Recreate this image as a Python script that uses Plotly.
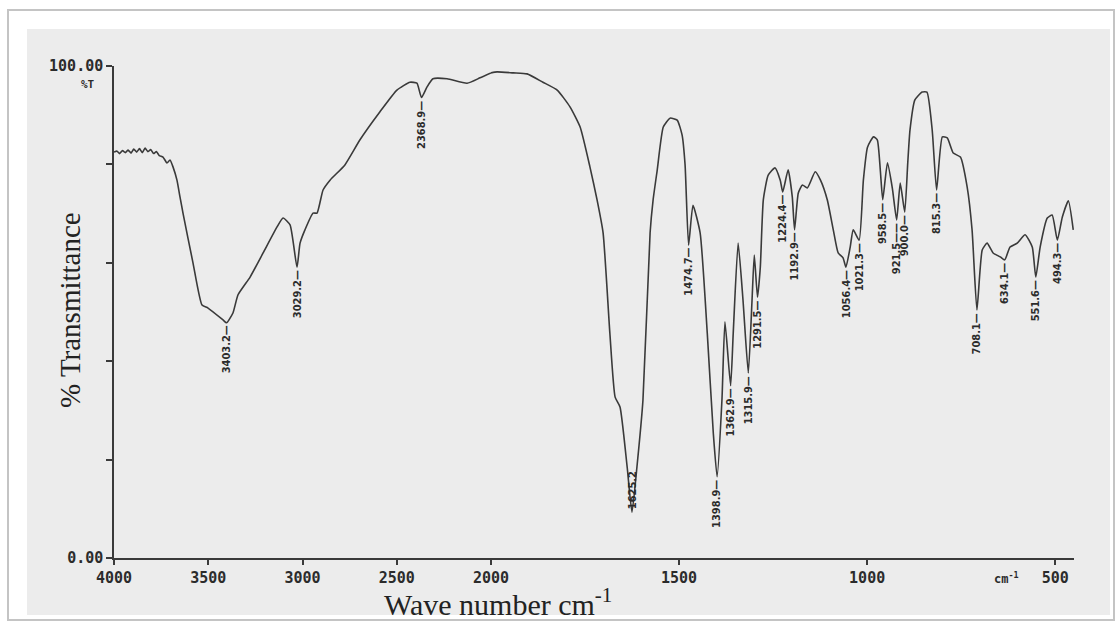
import plotly.graph_objects as go

# ---- IR spectrum: wavenumber (cm-1) vs % transmittance ----
wavenumber = [
    4000, 3985, 3970, 3955, 3940, 3925, 3910, 3895, 3880, 3865, 3850, 3835,
    3820, 3805, 3790, 3775, 3760, 3740, 3719, 3703, 3687, 3666, 3650, 3634,
    3581, 3533, 3501, 3422, 3403.2, 3369, 3342, 3278, 3209, 3135, 3103, 3066,
    3029.2, 3013, 2987, 2944, 2923, 2891, 2854, 2775, 2695, 2589, 2499, 2430,
    2393, 2368.9, 2340, 2308, 2233, 2127, 2058, 2000,
    1984, 1941, 1904, 1862, 1824, 1790, 1763, 1737, 1718, 1702, 1684, 1670,
    1657, 1638, 1625.2, 1612, 1596, 1577, 1569, 1558, 1542, 1524, 1505, 1492,
    1484, 1474.7, 1463, 1444, 1425, 1409, 1398.9, 1386, 1378, 1362.9, 1356,
    1343, 1330, 1315.9, 1306, 1300, 1291.5, 1284, 1276, 1263, 1245, 1231,
    1224.4, 1210, 1199, 1192.9, 1183, 1172, 1159, 1138, 1124, 1106, 1090,
    1077, 1064, 1056.4, 1045, 1037, 1021.3, 1010, 999, 983, 973, 965, 958.5,
    946, 933, 921.5, 912, 900.0, 892, 886, 873, 854, 841, 827, 815.3, 800,
    787, 771, 752, 734, 721, 708.1, 694, 681, 665, 646, 634.1, 620, 601, 580,
    561, 551.6, 540, 521, 508, 494.3, 481, 465, 452,
]
transmittance = [
    82.5, 82.7, 82.2, 82.8, 82.4, 82.9, 82.3, 83.1, 82.5, 83.2, 82.4, 83.3,
    82.6, 83.0, 82.2, 82.6, 81.8, 81.5, 80.3, 80.9, 79.5, 76.8, 73.4, 70.1,
    60.0, 51.4, 50.8, 48.4, 47.8, 49.8, 53.5, 57.1, 62.0, 67.3, 69.1, 67.7,
    59.1, 64.0, 66.7, 70.1, 70.1, 74.8, 76.8, 79.9, 85.0, 90.7, 95.1, 96.7,
    96.5, 93.6, 95.7, 97.4, 97.4, 96.5, 97.6, 98.6,
    98.8, 98.6, 98.4, 96.7, 95.1, 91.7, 87.6, 79.5, 72.8, 66.1, 45.7, 32.7,
    30.7, 18.5, 9.3, 18.5, 32.1, 66.1, 72.8, 78.9, 87.6, 89.4, 89.0, 86.0,
    79.9, 63.6, 71.7, 66.1, 45.7, 25.4, 16.5, 32.1, 48.0, 35.0, 45.7,
    64.0, 52.4, 37.6, 52.4, 61.6, 53.0, 59.1, 72.8, 77.8, 79.3, 76.8,
    74.4, 78.9, 73.4, 66.7, 74.2, 75.8, 75.2, 78.5, 76.8, 72.8, 66.7,
    62.0, 61.0, 59.1, 63.2, 66.7, 64.6, 76.8, 83.5, 85.6, 85.0, 78.9, 72.8,
    80.3, 75.2, 68.7, 76.2, 70.3, 80.3, 87.0, 93.1, 94.7, 94.7, 87.0, 74.8, 85.6,
    85.4, 82.3, 81.5, 75.4, 66.7, 50.4, 62.6, 64.0, 62.0, 61.2, 60.6, 63.2, 64.0, 65.7,
    63.2, 57.1, 63.2, 69.1, 69.7, 64.6, 69.3, 72.6, 66.7,
]

# Labelled band positions (cm-1)
peak_labels = [
    3403.2, 3029.2, 2368.9, 1625.2, 1474.7, 1398.9, 1362.9, 1315.9, 1291.5,
    1224.4, 1192.9, 1056.4, 1021.3, 958.5, 921.5, 900.0, 815.3, 708.1,
    634.1, 551.6, 494.3,
]

high_ticks = [4000, 3500, 3000, 2500, 2000]
low_ticks = [1500, 1000, 500]
y_ticks = [0, 20, 40, 60, 80, 100]
y_ticktext = ["0.00", "", "", "", "", "100.00"]

W, H = 1116, 631
ML, MR, MT, MB = 114, 42, 66, 73
PW, PH = W - ML - MR, H - MT - MB
SPLIT = (491 - ML) / PW   # scale change at 2000 cm-1


def px(x):
    return (x - ML) / PW


def py(y):
    return (H - MB - y) / PH


LINE = "#3a3a3a"
TXT = "#2b2b2b"
MONO = "DejaVu Sans Mono"
SERIF = "Liberation Serif"
NARROW = "DejaVu Sans Condensed, DejaVu Sans"

hi = [(w, t) for w, t in zip(wavenumber, transmittance) if w >= 2000]
lo = [(w, t) for w, t in zip(wavenumber, transmittance) if w <= 2000]

fig = go.Figure()
for seg, xa in ((hi, "x"), (lo, "x2")):
    fig.add_trace(go.Scatter(x=[p[0] for p in seg], y=[p[1] for p in seg], mode="lines",
                             line=dict(color=LINE, width=1.6, shape="spline", smoothing=0.5),
                             xaxis=xa, yaxis="y", showlegend=False, hoverinfo="skip"))

annotations = []
lookup = dict(zip(wavenumber, transmittance))
label_font = dict(family=NARROW, size=11, color=TXT, weight="bold")
for w in peak_labels:
    t = lookup[w]
    xr = "x" if w >= 2000 else "x2"
    if w == 1625.2:
        annotations.append(dict(x=w, y=t, xref=xr, yref="y", text="1625.2",
                                textangle=-90, showarrow=False, yanchor="bottom",
                                xanchor="center", yshift=1, font=label_font))
    else:
        dash = "\u2014\u2014" if w == 921.5 else "\u2014"
        annotations.append(dict(x=w, y=t, xref=xr, yref="y", text=f"{w:.1f}{dash}",
                                textangle=-90, showarrow=False, yanchor="top",
                                xanchor="center", yshift=-1, font=label_font))

annotations += [
    dict(x=px(88), y=py(85), xref="paper", yref="paper", text="%T", showarrow=False,
         xanchor="center", yanchor="middle",
         font=dict(family=MONO, size=11, color=TXT, weight="bold")),
    dict(x=px(1006), y=py(578), xref="paper", yref="paper", text="cm<sup>-1</sup>",
         xanchor="center", yanchor="middle",
         showarrow=False, font=dict(family=MONO, size=12, color=TXT, weight="bold")),
    dict(x=px(70), y=py(310), xref="paper", yref="paper", text="% Transmittance",
         xanchor="center", yanchor="middle",
         textangle=-90, showarrow=False, font=dict(family=SERIF, size=29, color="#222")),
    dict(x=px(498), y=py(602), xref="paper", yref="paper",
         xanchor="center", yanchor="middle",
         text="Wave number cm<sup>-1</sup>", showarrow=False,
         font=dict(family=SERIF, size=30, color="#222")),
]

shapes = [
    # outer frame
    dict(type="rect", xref="paper", yref="paper", layer="below",
         x0=px(8), x1=px(1114), y0=py(620), y1=py(10),
         line=dict(color="#c4c4c4", width=2), fillcolor="white"),
    # grey panel
    dict(type="rect", xref="paper", yref="paper", layer="below",
         x0=px(27), x1=px(1110), y0=py(615), y1=py(29),
         line=dict(width=0), fillcolor="#ececec"),
]

tickfont = dict(family=MONO, size=15, color=TXT, weight="bold")
axis_common = dict(showgrid=False, zeroline=False, showline=True, linecolor=LINE,
                   linewidth=1.5, ticks="outside", ticklen=5, tickcolor=LINE,
                   tickwidth=1.5, tickfont=tickfont, anchor="y")

fig.update_layout(
    width=W, height=H,
    margin=dict(l=ML, r=MR, t=MT, b=MB),
    paper_bgcolor="white",
    plot_bgcolor="rgba(0,0,0,0)",
    xaxis=dict(domain=[0, SPLIT], range=[4000, 2000], tickmode="array",
               tickvals=high_ticks, ticktext=[str(v) for v in high_ticks], **axis_common),
    xaxis2=dict(domain=[SPLIT, 1], range=[2000, 450], tickmode="array",
                tickvals=low_ticks, ticktext=[str(v) for v in low_ticks], **axis_common),
    yaxis=dict(range=[0, 100], tickmode="array", tickvals=y_ticks, ticktext=y_ticktext,
               showgrid=False, zeroline=False, showline=True, linecolor=LINE,
               linewidth=1.5, ticks="outside", ticklen=6, tickcolor=LINE, tickwidth=1.5,
               tickfont=tickfont, anchor="x"),
    annotations=annotations,
    shapes=shapes,
    showlegend=False,
)

fig.write_html("out.html")
